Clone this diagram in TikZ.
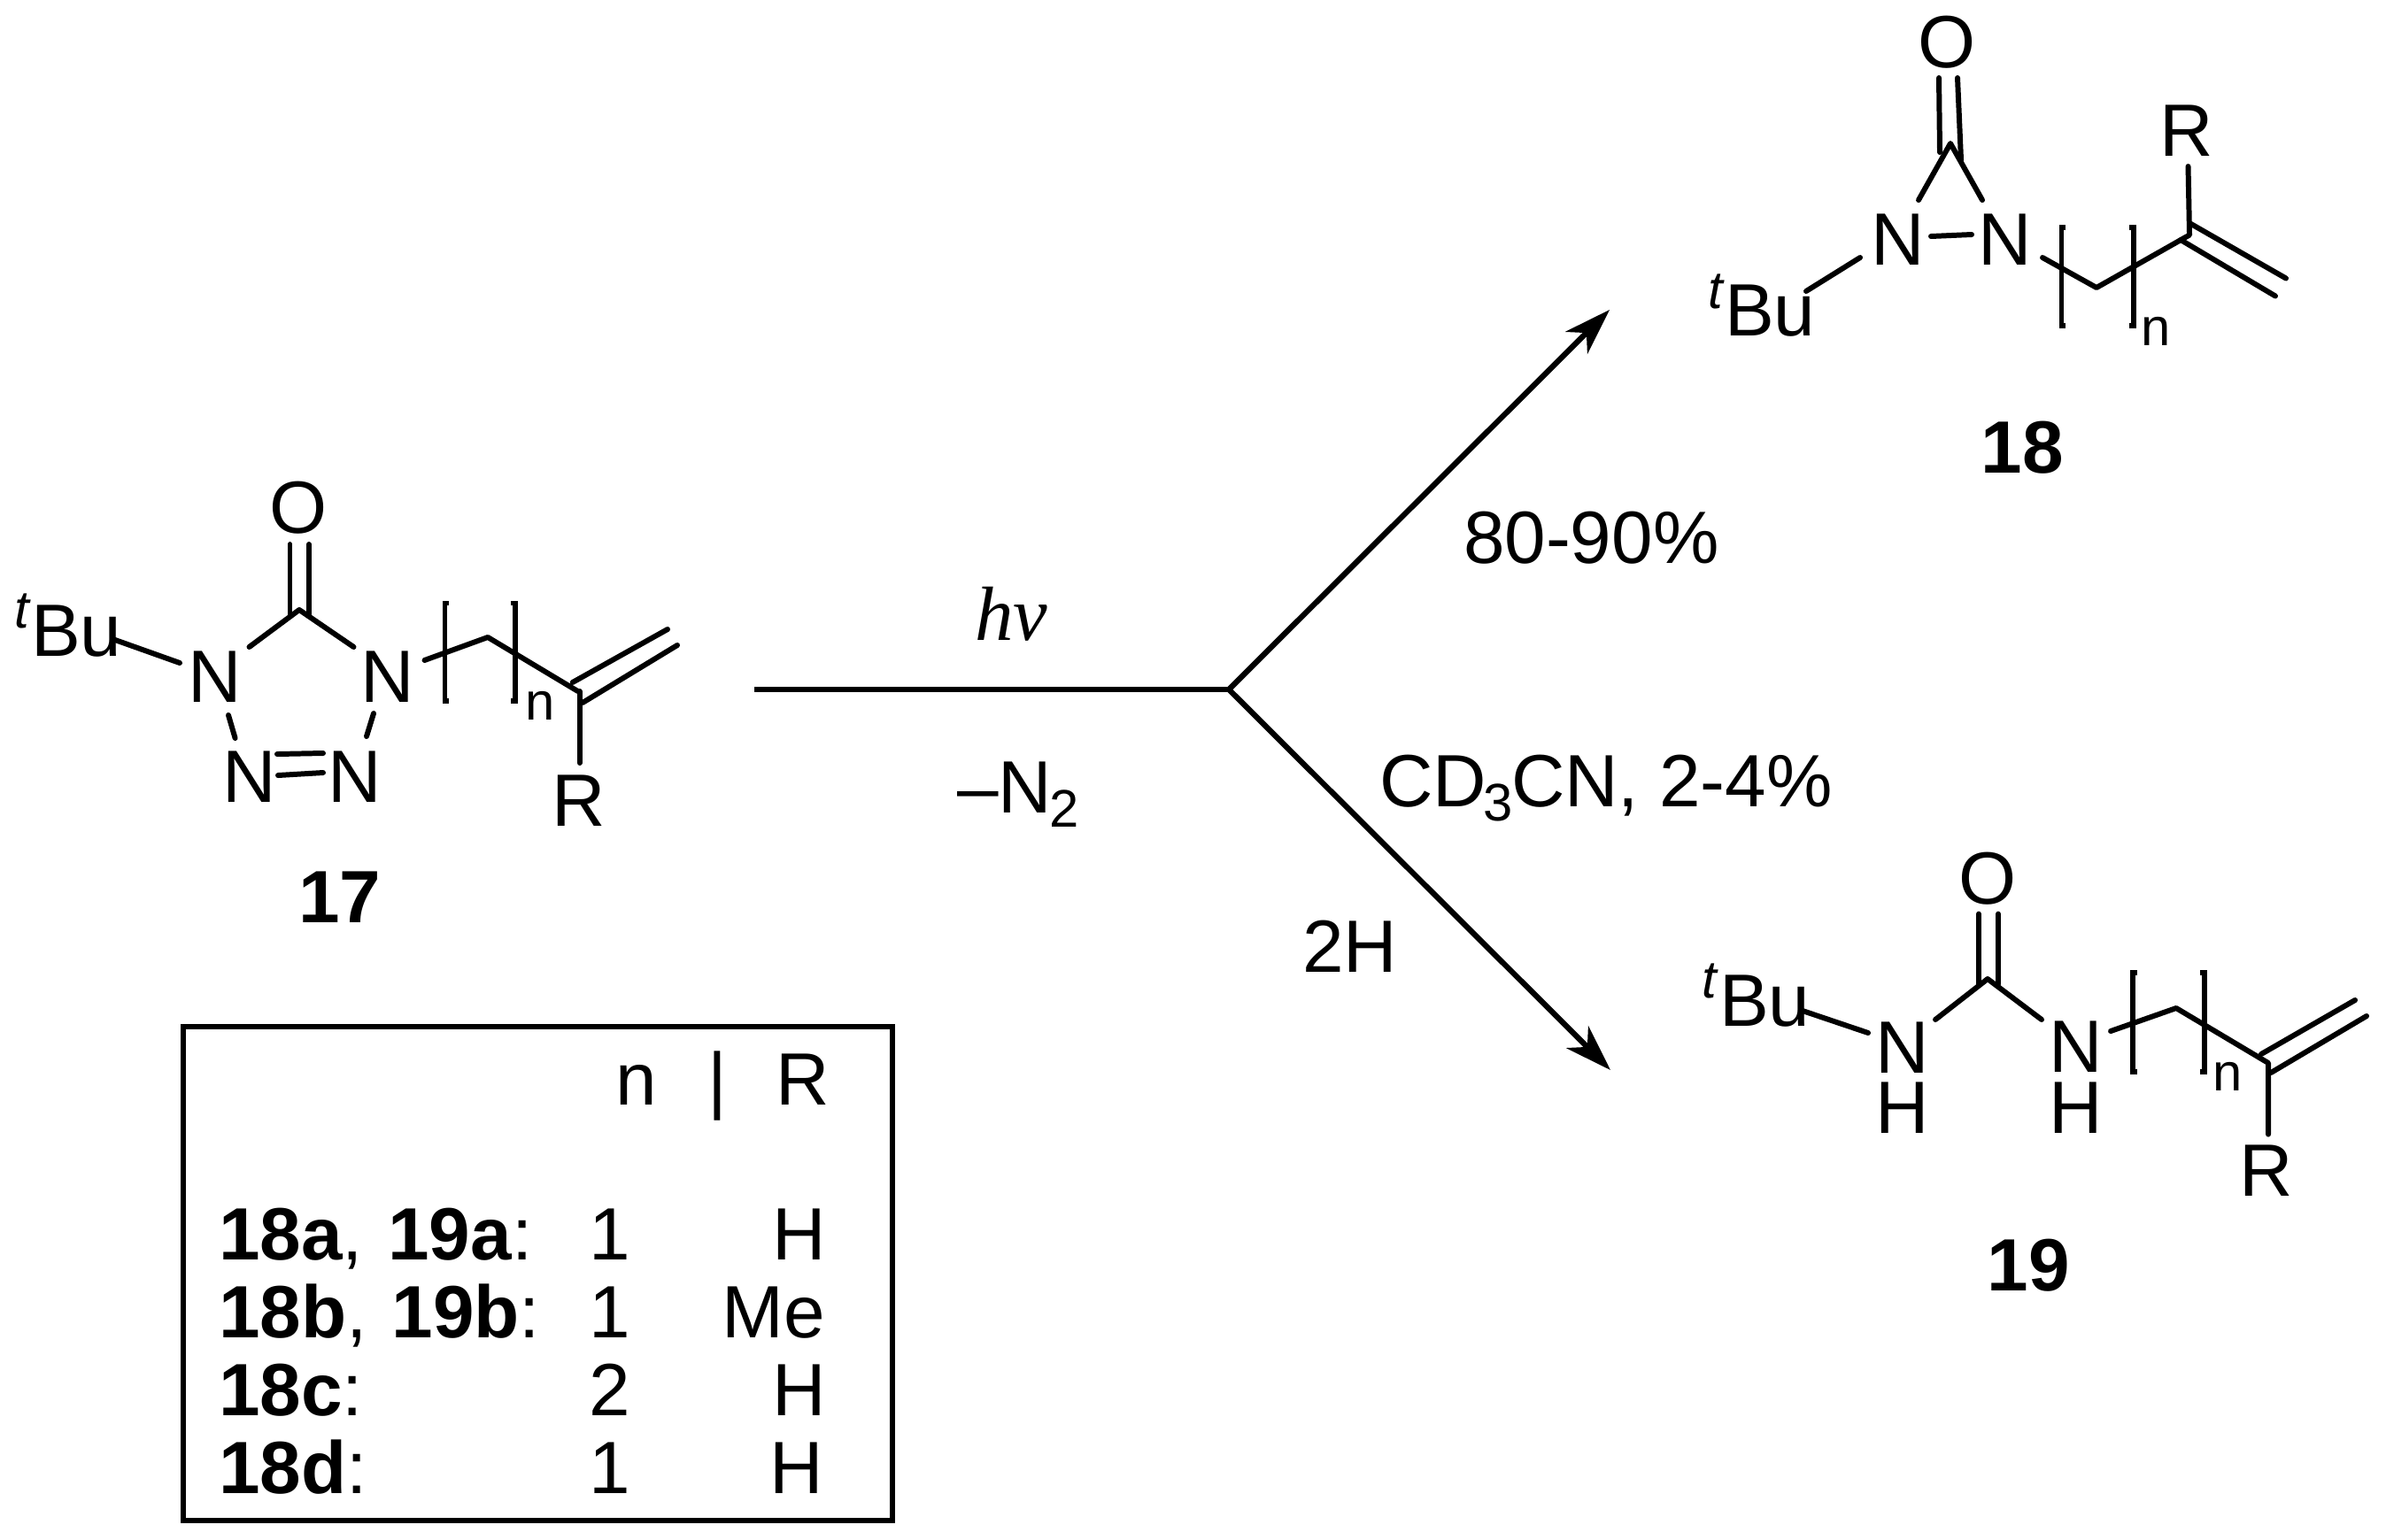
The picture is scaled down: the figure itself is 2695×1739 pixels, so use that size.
\documentclass[tikz,border=0pt]{standalone}
\usepackage{fontspec}
\setmainfont{Liberation Sans}
\newfontfamily\timesfont{Liberation Serif}
\usetikzlibrary{arrows.meta}
\tikzset{
  lbl/.style={inner sep=0pt,outer sep=0pt,text=black,font=\fontsize{23.8}{26}\selectfont,anchor=base},
  lbll/.style={lbl,anchor=base west},
  sm/.style={inner sep=0pt,outer sep=0pt,font=\fontsize{17}{18}\selectfont,anchor=base},
  smit/.style={sm,font=\fontsize{17}{18}\selectfont\itshape},
  idlbl/.style={lbl,font=\fontsize{23.8}{26}\selectfont\bfseries},
  bond/.style={draw=black,line width=1.7pt,line cap=round,line join=round},
  brk/.style={draw=black,line width=1.6pt,line join=miter},
  rxn/.style={draw=black,line width=1.8pt},
  rxnarrow/.style={rxn,-{Stealth[length=15pt,width=10pt,inset=4.5pt]}},
  tablebox/.style={draw=black,line width=1.7pt}
}
\begin{document}
\begin{tikzpicture}[x=0.01cm,y=-0.01cm]
\useasboundingbox (0,0) rectangle (2695,1739);
\fill[white] (0,0) rectangle (2695,1739);

% ---------- compound 17 ----------
\node[lbl] (o17) at (337,602.5) {O};
\node[lbl] (na17) at (243,793.6) {N};
\node[lbl] (nb17) at (438,793.6) {N};
\node[lbl] (nc17) at (281.5,906) {N};
\node[lbl] (nd17) at (401,906) {N};
\node[lbl] (r17) at (654,933) {R};
\node[lbll] (bu17) at (35,741) {Bu};
\node[smit] (t17) at (25,709) {t};
\node[sm] (n17) at (610,813) {n};
\node[idlbl] (id17) at (384,1042) {17};
\coordinate (c17) at (338,689);
\coordinate (cdl17) at (327.5,694); \coordinate (cul17) at (327.5,615);
\coordinate (cdr17) at (349,694); \coordinate (cur17) at (349,615);
\coordinate (a17) at (281.5,731); \coordinate (b17) at (399.5,731);
\coordinate (tb17) at (130,723); \coordinate (tn17) at (203,749);
\coordinate (e17) at (258,808); \coordinate (f17) at (265.6,834);
\coordinate (g17) at (422,806); \coordinate (h17) at (414,832);
\coordinate (i17) at (313,852); \coordinate (j17) at (365,851);
\coordinate (k17) at (314,876); \coordinate (l17) at (365,873);
\coordinate (s17) at (479.5,746); \coordinate (m17) at (551,720); \coordinate (v17) at (652.7,781);
\coordinate (p17) at (646.7,771); \coordinate (q17) at (754,711);
\coordinate (u17) at (658,794); \coordinate (w17) at (765,729);
\coordinate (x17) at (654.6,781); \coordinate (y17) at (654.6,862);
\draw[bond] (cul17) -- (cdl17); \draw[bond] (cur17) -- (cdr17);
\draw[bond] (a17) -- (c17) -- (b17);
\draw[bond] (tb17) -- (tn17);
\draw[bond] (e17) -- (f17); \draw[bond] (g17) -- (h17);
\draw[bond] (i17) -- (j17); \draw[bond] (k17) -- (l17);
\draw[bond] (s17) -- (m17) -- (v17);
\draw[bond] (p17) -- (q17); \draw[bond] (u17) -- (w17);
\draw[bond] (x17) -- (y17);
\draw[brk] (507,681.5) -- (502.5,681.5) -- (502.5,792) -- (507,792);
\draw[brk] (577,681.5) -- (582,681.5) -- (582,792) -- (577,792);

% ---------- compound 18 ----------
\node[lbl] (o18) at (2199,76.5) {O};
\node[lbl] (na18) at (2144,299) {N};
\node[lbl] (nb18) at (2265,299) {N};
\node[lbl] (r18) at (2470,176.5) {R};
\node[lbll] (bu18) at (1948,379) {Bu};
\node[smit] (t18) at (1938,348) {t};
\node[sm] (n18) at (2435,390) {n};
\node[idlbl] (id18) at (2284,534) {18};
\coordinate (c18) at (2203,162);
\coordinate (cul18) at (2190,88); \coordinate (cdl18) at (2191,172);
\coordinate (cur18) at (2211,88); \coordinate (cdr18) at (2215,181);
\coordinate (a18) at (2167,226); \coordinate (b18) at (2239,226);
\coordinate (e18) at (2181,267); \coordinate (f18) at (2227,265);
\coordinate (tn18) at (2101,291); \coordinate (tb18) at (2040,329);
\coordinate (s18) at (2307,291); \coordinate (m18) at (2368,325); \coordinate (v18) at (2473,265.5);
\coordinate (ru18) at (2471.5,188);
\coordinate (p18) at (2473,252); \coordinate (q18) at (2582,314.5);
\coordinate (u18) at (2463,271); \coordinate (w18) at (2570,334.5);
\draw[bond] (cul18) -- (cdl18); \draw[bond] (cur18) -- (cdr18);
\draw[bond] (a18) -- (c18) -- (b18);
\draw[bond] (e18) -- (f18);
\draw[bond] (tn18) -- (tb18);
\draw[bond] (s18) -- (m18) -- (v18) -- (ru18);
\draw[bond] (p18) -- (q18); \draw[bond] (u18) -- (w18);
\draw[brk] (2333,257) -- (2328.5,257) -- (2328.5,368) -- (2333,368);
\draw[brk] (2405,257) -- (2410,257) -- (2410,368) -- (2405,368);

% ---------- compound 19 ----------
\node[lbl] (o19) at (2245,1021.6) {O};
\node[lbl] (na19) at (2149,1212) {N};
\node[lbl] (ha19) at (2149,1280.6) {H};
\node[lbl] (nb19) at (2344.7,1211) {N};
\node[lbl] (hb19) at (2344.7,1280.6) {H};
\node[lbl] (r19) at (2560,1351) {R};
\node[lbll] (bu19) at (1942,1159) {Bu};
\node[smit] (t19) at (1931,1127) {t};
\node[sm] (n19) at (2516,1232) {n};
\node[idlbl] (id19) at (2291,1458.5) {19};
\coordinate (c19) at (2245,1106);
\coordinate (cul19) at (2235,1032.6); \coordinate (cdl19) at (2235,1112);
\coordinate (cur19) at (2257,1032.6); \coordinate (cdr19) at (2257,1112);
\coordinate (a19) at (2186,1152); \coordinate (b19) at (2306,1152);
\coordinate (tb19) at (2036,1142); \coordinate (tn19) at (2110,1167);
\coordinate (s19) at (2384,1165); \coordinate (m19) at (2458,1139); \coordinate (v19) at (2562,1201);
\coordinate (p19) at (2554,1191); \coordinate (q19) at (2660,1130);
\coordinate (u19) at (2565,1212); \coordinate (w19) at (2673,1148);
\coordinate (y19) at (2562,1281.6);
\draw[bond] (cul19) -- (cdl19); \draw[bond] (cur19) -- (cdr19);
\draw[bond] (a19) -- (c19) -- (b19);
\draw[bond] (tb19) -- (tn19);
\draw[bond] (s19) -- (m19) -- (v19) -- (y19);
\draw[bond] (p19) -- (q19); \draw[bond] (u19) -- (w19);
\draw[brk] (2413.5,1099) -- (2409,1099) -- (2409,1211) -- (2413.5,1211);
\draw[brk] (2485,1099) -- (2490,1099) -- (2490,1211) -- (2485,1211);

% ---------- reaction arrows ----------
\coordinate (start) at (852,779);
\coordinate (branch) at (1388,779);
\coordinate (tipup) at (1818,350);
\coordinate (tipdown) at (1819,1209);
\draw[rxn] (start) -- (branch);
\draw[rxnarrow] (branch) -- (tipup);
\draw[rxnarrow] (branch) -- (tipdown);
\node[lbl,font=\fontsize{24.7}{26}\timesfont\itshape] (hv) at (1142,723) {hν};
\node[lbll] (n2) at (1081,918) {–N};
\node[sm] (n2sub) at (1202,934.5) {2};
\node[lbll] (yield18) at (1653,636) {80-90\%};
\node[lbll] (cd) at (1558,911) {CD};
\node[sm] (cdsub) at (1692,927) {3};
\node[lbll] (cn) at (1707,911) {CN, 2-4\%};
\node[lbll] (twoh) at (1471,1098) {2H};

% ---------- table ----------
\draw[tablebox] (207,1160) rectangle (1008,1718);
\node[lbl] (hn) at (719,1248) {n};
\node[lbl] (hbar) at (810,1248) {|};
\node[lbl] (hr) at (907,1248) {R};
\node[lbll] (ra) at (247,1423.5) {\textbf{18a}, \kern1.4pt\textbf{19a}:};
\node[lbll] (rb) at (247,1511) {\textbf{18b}, \kern1.4pt\textbf{19b}:};
\node[lbll] (rc) at (247,1599) {\textbf{18c}:};
\node[lbll] (rd) at (247,1687) {\textbf{18d}:};
\node[lbl] (na) at (689,1423.5) {1};
\node[lbl] (nb) at (689,1511) {1};
\node[lbl] (nc) at (689,1599) {2};
\node[lbl] (nd) at (689,1687) {1};
\node[lbl] (va) at (903,1423.5) {H};
\node[lbl] (vb) at (874,1511) {Me};
\node[lbl] (vc) at (903,1599) {H};
\node[lbl] (vd) at (900,1687) {H};
\end{tikzpicture}
\end{document}
